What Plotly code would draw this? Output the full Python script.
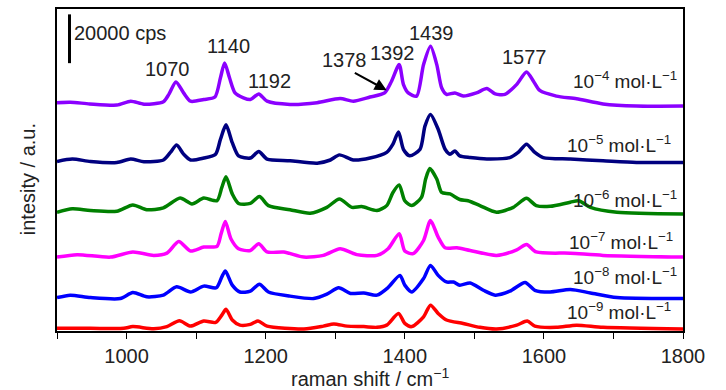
import plotly.graph_objects as go

# Raman shift positions (cm^-1) and stacked intensities (cps)
wn_4 = [900, 919, 947, 986, 1006, 1025, 1053, 1061, 1071, 1082, 1092, 1111, 1127, 1135, 1141, 1148, 1156, 1168, 1178, 1190, 1202, 1235, 1274, 1307, 1326, 1350, 1371, 1381, 1392, 1398, 1405, 1417, 1427, 1437, 1446, 1453, 1460, 1472, 1484, 1503, 1518, 1530, 1544, 1561, 1575, 1585, 1594, 1618, 1647, 1685, 1733, 1800]
int_4 = [93600, 93800, 93100, 92600, 94200, 93000, 94000, 97100, 102100, 97600, 94200, 94900, 95900, 103800, 109900, 103800, 97600, 95600, 94900, 97200, 94200, 92900, 93600, 95300, 94200, 95900, 97600, 102400, 109200, 101100, 97600, 96300, 109200, 116700, 109200, 99700, 97000, 97600, 96300, 97600, 99400, 97200, 97000, 101100, 106200, 102400, 98600, 96300, 95200, 93100, 92200, 92200]

wn_5 = [900, 922, 948, 986, 1006, 1025, 1053, 1063, 1072, 1082, 1092, 1111, 1128, 1135, 1143, 1152, 1161, 1178, 1190, 1202, 1235, 1274, 1293, 1306, 1326, 1350, 1374, 1383, 1391, 1398, 1407, 1422, 1429, 1437, 1448, 1458, 1465, 1472, 1479, 1494, 1518, 1551, 1563, 1575, 1587, 1599, 1638, 1685, 1733, 1800]
int_5 = [69500, 70500, 69500, 69100, 70500, 69400, 70100, 73200, 76200, 72500, 70100, 70900, 72500, 78600, 84500, 77200, 71800, 70900, 73600, 70500, 69800, 68800, 70100, 72200, 70100, 70900, 73200, 76600, 81600, 74500, 71800, 74500, 84000, 88800, 82700, 74500, 72500, 73800, 71800, 71100, 70500, 71100, 73200, 76600, 73200, 71100, 70500, 69800, 69100, 69100]

wn_6 = [900, 922, 948, 986, 1009, 1029, 1053, 1077, 1094, 1111, 1130, 1137, 1143, 1152, 1161, 1178, 1191, 1204, 1235, 1264, 1288, 1306, 1324, 1338, 1360, 1374, 1383, 1392, 1400, 1410, 1424, 1430, 1436, 1446, 1453, 1465, 1479, 1491, 1508, 1532, 1556, 1575, 1589, 1609, 1638, 1650, 1667, 1705, 1800]
int_6 = [48700, 50100, 49400, 49100, 51700, 49700, 50500, 54500, 52100, 54500, 53400, 58900, 63200, 56200, 52300, 52300, 55100, 51400, 49700, 48300, 50700, 54100, 50700, 51000, 49400, 51400, 56800, 59900, 53400, 51400, 54800, 62300, 66600, 62300, 56800, 56200, 53900, 53400, 51400, 48700, 50700, 54400, 51400, 51100, 52800, 53400, 50700, 48700, 48000]

wn_7 = [900, 929, 977, 1009, 1039, 1058, 1075, 1092, 1111, 1130, 1136, 1142, 1150, 1161, 1178, 1190, 1202, 1226, 1255, 1283, 1307, 1331, 1360, 1376, 1392, 1400, 1412, 1427, 1437, 1448, 1458, 1475, 1494, 1532, 1561, 1575, 1589, 1638, 1685, 1800]
int_7 = [30300, 31300, 30300, 32400, 31000, 31900, 36700, 32800, 34400, 34700, 39900, 44900, 37800, 33700, 33000, 35800, 32400, 32400, 30300, 31000, 33700, 31300, 31000, 33700, 39900, 32800, 31700, 37100, 45300, 38500, 34100, 34100, 33000, 31000, 33300, 35500, 32400, 31900, 31000, 30300]

wn_8 = [900, 919, 948, 991, 1009, 1029, 1053, 1072, 1092, 1111, 1129, 1137, 1142, 1152, 1163, 1178, 1191, 1204, 1235, 1269, 1288, 1305, 1322, 1341, 1360, 1376, 1393, 1400, 1410, 1427, 1437, 1448, 1460, 1470, 1479, 1494, 1513, 1530, 1551, 1573, 1587, 1609, 1638, 1667, 1705, 1800]
int_8 = [13700, 14700, 13700, 13300, 15800, 14000, 14700, 18100, 16000, 18400, 17700, 22200, 24600, 18800, 16000, 16300, 19200, 16000, 14300, 13300, 15100, 17700, 15400, 15600, 14700, 17800, 22800, 18800, 16000, 21500, 26900, 22800, 20100, 20100, 18800, 19700, 16700, 14700, 16300, 19900, 16700, 16000, 17000, 15600, 13700, 13300]

wn_9 = [900, 948, 996, 1009, 1039, 1058, 1076, 1092, 1111, 1128, 1137, 1143, 1152, 1163, 1178, 1189, 1202, 1255, 1283, 1298, 1317, 1341, 1360, 1374, 1391, 1400, 1410, 1427, 1437, 1448, 1460, 1484, 1508, 1532, 1561, 1576, 1587, 1618, 1647, 1685, 1800]
int_9 = [1100, 1100, 1100, 1800, 900, 1800, 4200, 2000, 4100, 3500, 6500, 8900, 4500, 2400, 2700, 4100, 2000, 800, 2000, 2900, 2000, 1800, 1500, 2400, 7200, 3100, 1800, 5800, 10600, 7200, 4500, 3100, 1500, 800, 2400, 4100, 2000, 1500, 2400, 1500, 800]

series_names = ["10<sup>−4</sup> mol·L<sup>−1</sup>", "10<sup>−5</sup> mol·L<sup>−1</sup>",
                "10<sup>−6</sup> mol·L<sup>−1</sup>", "10<sup>−7</sup> mol·L<sup>−1</sup>",
                "10<sup>−8</sup> mol·L<sup>−1</sup>", "10<sup>−9</sup> mol·L<sup>−1</sup>"]
series_colors = ["#8B00FF", "#000080", "#008000", "#FF00FF", "#0000FF", "#FF0000"]
label_y = [103000, 76700, 54300, 37100, 22400, 8200]
label_x = [1794, 1786, 1794, 1788, 1794, 1786]

peak_labels = ["1070", "1140", "1192", "1378", "1392", "1439", "1577"]
peak_label_x = [1059, 1146, 1205, 1313, 1383, 1438, 1572]
peak_label_y = [107300, 116700, 102400, 111000, 113800, 122000, 112200]

scale_bar_x = 918
scale_bar_y = [109800, 129800]
scale_bar_text = "20000 cps"

FONT = "Liberation Sans, Arial, sans-serif"

xs = [wn_4, wn_5, wn_6, wn_7, wn_8, wn_9]
ys = [int_4, int_5, int_6, int_7, int_8, int_9]

fig = go.Figure()
for x, y, n, c in zip(xs, ys, series_names, series_colors):
    fig.add_trace(go.Scatter(x=x, y=y, mode="lines", name=n,
                             line=dict(color=c, width=3.5, shape="spline", smoothing=0.7),
                             showlegend=False))

# concentration labels
for n, lx, ly in zip(series_names, label_x, label_y):
    fig.add_annotation(x=lx, y=ly, xref="x", yref="y", text=n, showarrow=False,
                       xanchor="right", yanchor="middle", font=dict(size=19, color="#222"))

# peak labels
for t, px, py in zip(peak_labels, peak_label_x, peak_label_y):
    fig.add_annotation(x=px, y=py, xref="x", yref="y", text=t, showarrow=False,
                       xanchor="center", yanchor="middle", font=dict(size=20, color="#222"))

# arrow to 1378 shoulder
fig.add_annotation(x=1374, y=98700, ax=1326, ay=106100, xref="x", yref="y",
                   axref="x", ayref="y", text="", showarrow=True, arrowhead=2,
                   arrowsize=1.2, arrowwidth=2, arrowcolor="black")

# scale bar
fig.add_trace(go.Scatter(x=[scale_bar_x, scale_bar_x], y=scale_bar_y, mode="lines",
                         line=dict(color="black", width=3), showlegend=False))
fig.add_annotation(x=922, y=122000, xref="x", yref="y", text=scale_bar_text, showarrow=False,
                   xanchor="left", yanchor="middle", font=dict(size=20, color="#222"))

# axis titles
fig.add_annotation(x=0.5, y=-0.145, xref="paper", yref="paper",
                   text="raman shift / cm<sup>−1</sup>", showarrow=False,
                   xanchor="center", yanchor="middle", font=dict(size=20, color="#222"))
fig.add_annotation(x=-0.047, y=0.47, xref="paper", yref="paper",
                   text="intesity / a.u.", showarrow=False, textangle=-90,
                   xanchor="center", yanchor="middle", font=dict(size=20, color="#222"))

fig.update_layout(
    width=726, height=390,
    margin=dict(l=57, r=43, t=7, b=59),
    paper_bgcolor="white", plot_bgcolor="white",
    font=dict(family=FONT, size=20, color="#222"),
    xaxis=dict(range=[900, 1800], tick0=1000, dtick=200, ticks="outside", ticklen=6,
               tickwidth=1.2, tickcolor="black", showline=True, linecolor="black",
               linewidth=1.5, mirror=True, showgrid=False, zeroline=False,
               tickfont=dict(size=20, color="#222"),
               minor=dict(dtick=100, ticks="outside", ticklen=6, tickwidth=1.2, tickcolor="black")),
    yaxis=dict(range=[0, 132000], showticklabels=False, ticks="", showline=True,
               linecolor="black", linewidth=1.5, mirror=True, showgrid=False, zeroline=False),
)

fig.write_html("out.html", config={"displayModeBar": False},
               post_script="document.body.style.margin='0px';document.body.style.padding='0px';")
